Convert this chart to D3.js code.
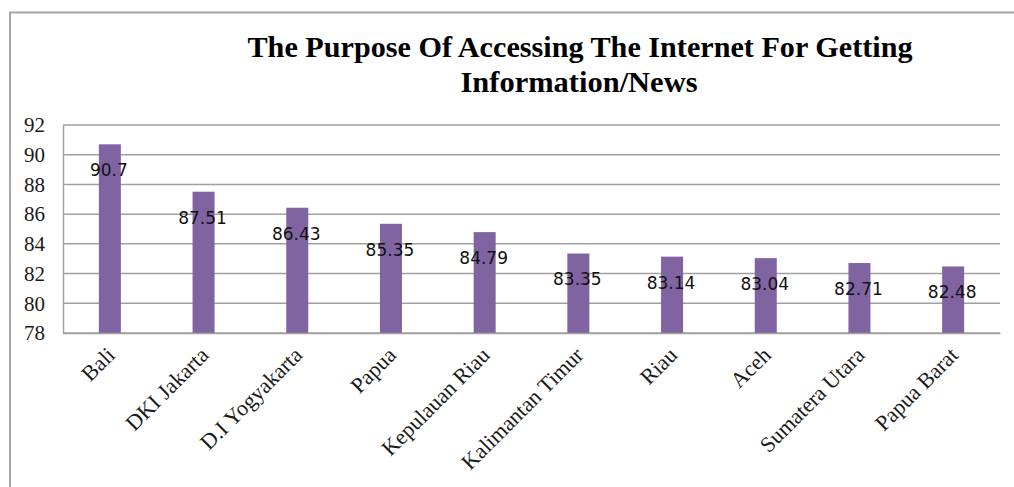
<!DOCTYPE html>
<html>
<head>
<meta charset="utf-8">
<script src="https://cdn.jsdelivr.net/npm/d3@7"></script>
<style>
  html, body { margin: 0; padding: 0; background: #fff; }
  svg { display: block; }
</style>
</head>
<body>
<svg id="chart" width="1014" height="487"></svg>
<script>
// Provinces and their share (%) of internet use for getting information/news
const provinces = ["Bali", "DKI Jakarta", "D.I Yogyakarta", "Papua", "Kepulauan Riau",
  "Kalimantan Timur", "Riau", "Aceh", "Sumatera Utara", "Papua Barat"];
const values = [90.7, 87.51, 86.43, 85.35, 84.79, 83.35, 83.14, 83.04, 82.71, 82.48];
const yTicks = [78, 80, 82, 84, 86, 88, 90, 92];
const titleLines = ["The Purpose Of Accessing The Internet For Getting", "Information/News"];

const svg = d3.select("#chart");
const W = 1014, H = 487;
const plot = { left: 63, right: 1000, top: 125, bottom: 333 };

// Outer chart frame (extends past the visible area on the right and bottom)
svg.append("rect")
  .attr("x", 10).attr("y", 12.5)
  .attr("width", W + 20).attr("height", H + 20)
  .attr("fill", "#fff")
  .attr("stroke", "#a6a6a6").attr("stroke-width", 2);

// Title (condensed bold serif, two lines)
const title = svg.append("g").attr("font-family", "'Liberation Serif', 'Times New Roman', serif")
  .attr("font-weight", "bold").attr("fill", "#000").attr("text-anchor", "middle");
title.append("text").attr("x", 580).attr("y", 57).attr("font-size", 29)
  .attr("textLength", 665).attr("lengthAdjust", "spacingAndGlyphs").text(titleLines[0]);
title.append("text").attr("x", 579).attr("y", 92).attr("font-size", 29)
  .attr("textLength", 237).attr("lengthAdjust", "spacingAndGlyphs").text(titleLines[1]);

const x = d3.scaleBand().domain(provinces).range([plot.left, plot.right]);
const y = d3.scaleLinear().domain([78, 92]).range([plot.bottom, plot.top]);

// Horizontal gridlines
svg.append("g")
  .selectAll("line").data(yTicks).join("line")
  .attr("x1", plot.left).attr("x2", plot.right)
  .attr("y1", d => y(d)).attr("y2", d => y(d))
  .attr("stroke", "#a0a0a0").attr("stroke-width", 1.5);

// Y axis
const yAxis = svg.append("g")
  .attr("transform", `translate(${plot.left},0)`)
  .call(d3.axisLeft(y).tickValues(yTicks).tickSize(0).tickPadding(18));
yAxis.select(".domain").attr("stroke", "#a0a0a0").attr("stroke-width", 1.5);
yAxis.selectAll("text")
  .attr("font-family", "'Liberation Serif', 'Times New Roman', serif")
  .attr("font-size", 21).attr("fill", "#1a1a1a");

// Bars
const barW = 22;
svg.append("g")
  .selectAll("rect").data(values).join("rect")
  .attr("x", (d, i) => x(provinces[i]) + x.bandwidth() / 2 - barW / 2)
  .attr("width", barW)
  .attr("y", d => y(d))
  .attr("height", d => y(78) - y(d))
  .attr("fill", "#8064a2");

// X axis line and rotated category labels
const xAxis = svg.append("g")
  .attr("transform", `translate(0,${plot.bottom})`)
  .call(d3.axisBottom(x).tickSize(0).tickFormat(""));
xAxis.select(".domain").attr("stroke", "#a0a0a0").attr("stroke-width", 1.5);

svg.append("g")
  .selectAll("text").data(provinces).join("text")
  .attr("transform", d => `translate(${x(d) + x.bandwidth() / 2 + 1},${plot.bottom + 18}) rotate(-45)`)
  .attr("text-anchor", "end")
  .attr("dy", "0.35em")
  .attr("font-family", "'Liberation Serif', 'Times New Roman', serif")
  .attr("font-size", 22).attr("fill", "#1a1a1a")
  .text(d => d);

// Value labels, drawn just inside the top of each bar
svg.append("g")
  .selectAll("text").data(values).join("text")
  .attr("x", (d, i) => x(provinces[i]) + x.bandwidth() / 2 - 1)
  .attr("y", d => y(d) + 26)
  .attr("dy", "0.35em")
  .attr("text-anchor", "middle")
  .attr("font-family", "'DejaVu Sans', Verdana, sans-serif")
  .attr("font-size", 17).attr("fill", "#111")
  .text(d => d);
</script>
</body>
</html>
